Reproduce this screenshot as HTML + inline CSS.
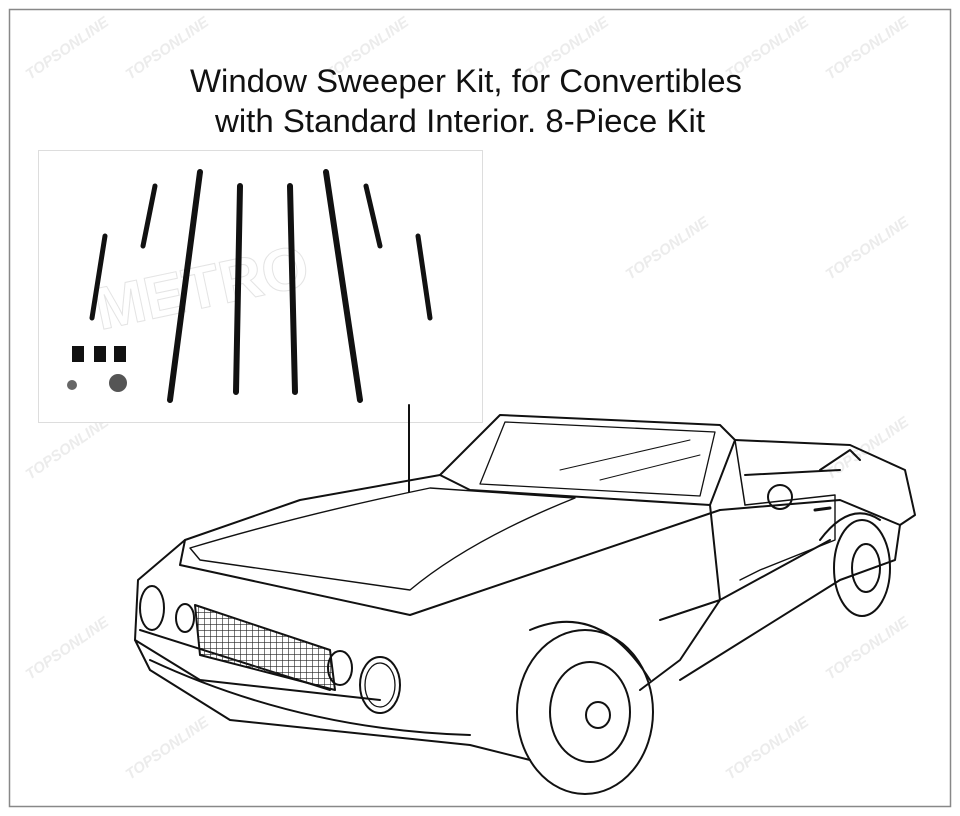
<!DOCTYPE html>
<html><head><meta charset="utf-8"><style>
html,body{margin:0;padding:0;background:#fff;}
svg{display:block}
</style></head><body>
<svg width="960" height="816" viewBox="0 0 960 816" xmlns="http://www.w3.org/2000/svg">
<defs>
<pattern id="grid" width="6" height="6" patternUnits="userSpaceOnUse"><path d="M0 0 L6 0 M0 0 L0 6" stroke="#222" stroke-width="1.2"/></pattern>
</defs>
<rect x="0" y="0" width="960" height="816" fill="#fff"/>
<rect x="9.5" y="9.5" width="941" height="797" fill="none" stroke="#888" stroke-width="1.5"/>
<g font-family="Liberation Sans, sans-serif" font-size="15" font-weight="bold" fill="#ececec" font-style="italic">
<text x="30" y="80" transform="rotate(-35 30 80)">TOPSONLINE</text>
<text x="130" y="80" transform="rotate(-35 130 80)">TOPSONLINE</text>
<text x="330" y="80" transform="rotate(-35 330 80)">TOPSONLINE</text>
<text x="530" y="80" transform="rotate(-35 530 80)">TOPSONLINE</text>
<text x="730" y="80" transform="rotate(-35 730 80)">TOPSONLINE</text>
<text x="830" y="80" transform="rotate(-35 830 80)">TOPSONLINE</text>
<text x="630" y="280" transform="rotate(-35 630 280)">TOPSONLINE</text>
<text x="830" y="280" transform="rotate(-35 830 280)">TOPSONLINE</text>
<text x="30" y="480" transform="rotate(-35 30 480)">TOPSONLINE</text>
<text x="830" y="480" transform="rotate(-35 830 480)">TOPSONLINE</text>
<text x="30" y="680" transform="rotate(-35 30 680)">TOPSONLINE</text>
<text x="830" y="680" transform="rotate(-35 830 680)">TOPSONLINE</text>
<text x="130" y="780" transform="rotate(-35 130 780)">TOPSONLINE</text>
<text x="730" y="780" transform="rotate(-35 730 780)">TOPSONLINE</text>
</g>
<g font-family="Liberation Sans, sans-serif" font-size="32" fill="#111" text-anchor="middle">
<text x="466" y="92" textLength="552" lengthAdjust="spacingAndGlyphs">Window Sweeper Kit, for Convertibles</text>
<text x="460" y="132" textLength="490" lengthAdjust="spacingAndGlyphs">with Standard Interior. 8-Piece Kit</text>
</g>
<rect x="38.5" y="150.5" width="444" height="272" fill="#fff" stroke="#ddd"/>
<text x="100" y="330" font-family="Liberation Sans, sans-serif" font-size="60" font-weight="bold" fill="none" stroke="#e4e4e4" transform="rotate(-12 100 330)">METRO</text>
<g stroke="#111" stroke-linecap="round" fill="none">
<path d="M105 236 L92 318" stroke-width="5"/>
<path d="M155 186 L143 246" stroke-width="5"/>
<path d="M200 172 L170 400" stroke-width="6"/>
<path d="M240 186 L236 392" stroke-width="6"/>
<path d="M290 186 L295 392" stroke-width="6"/>
<path d="M326 172 L360 400" stroke-width="6"/>
<path d="M366 186 L380 246" stroke-width="5"/>
<path d="M418 236 L430 318" stroke-width="5"/>
</g>
<g fill="#111">
<rect x="72" y="346" width="12" height="16"/><rect x="94" y="346" width="12" height="16"/><rect x="114" y="346" width="12" height="16"/>
<circle cx="72" cy="385" r="5" fill="#666"/><circle cx="118" cy="383" r="9" fill="#555"/>
</g>
<g stroke="#111" stroke-width="2" fill="none" stroke-linejoin="round" stroke-linecap="round">
<path d="M409 405 L409 492"/>
<path d="M500 415 L720 425 L735 440 L710 505 L470 490 L440 475 Z"/>
<path d="M505 422 L715 432 L700 496 L480 484 Z" stroke-width="1.3"/>
<path d="M560 470 L690 440 M600 480 L700 455" stroke-width="1"/>
<path d="M735 440 L850 445 L905 470 L915 515 L900 525"/>
<path d="M440 475 L300 500 L185 540 L138 580 L135 640 L150 670 L230 720 L470 745 L530 760"/>
<path d="M185 540 L180 565 L410 615 L720 510"/>
<path d="M190 548 Q300 515 430 488 L575 498 Q470 540 410 590 L200 560 Z" stroke-width="1.4"/>
<path d="M135 640 L200 680 L380 700"/>
<path d="M150 660 Q300 730 470 735"/>
<path d="M140 630 L330 690"/>
<path d="M710 505 L720 600 L680 660 L640 690"/>
<path d="M720 510 L840 500 L900 525 L895 560 L840 580 L680 680"/>
<path d="M720 600 L830 540"/>
<path d="M660 620 L720 600"/>
<path d="M735 440 L745 505" stroke-width="1.5"/>
<path d="M745 505 L835 495 L835 540 L760 570 L740 580" stroke-width="1.4"/>
<path d="M815 510 L830 508" stroke-width="3"/>
<ellipse cx="152" cy="608" rx="12" ry="22"/>
<ellipse cx="185" cy="618" rx="9" ry="14"/>
<path d="M195 605 L330 650 L335 690 L200 655 Z" fill="url(#grid)"/>
<ellipse cx="340" cy="668" rx="12" ry="17"/>
<ellipse cx="380" cy="685" rx="20" ry="28"/>
<ellipse cx="380" cy="685" rx="15" ry="22" stroke-width="1.3"/>
<ellipse cx="585" cy="712" rx="68" ry="82"/>
<ellipse cx="590" cy="712" rx="40" ry="50"/>
<ellipse cx="598" cy="715" rx="12" ry="13"/>
<ellipse cx="862" cy="568" rx="28" ry="48"/>
<ellipse cx="866" cy="568" rx="14" ry="24"/>
<path d="M530 630 Q600 600 650 680"/>
<path d="M820 540 Q850 500 880 520"/>
<circle cx="780" cy="497" r="12"/>
<path d="M745 475 L840 470"/>
<path d="M820 470 L850 450 L860 460"/>
</g>
</svg>
</body></html>
